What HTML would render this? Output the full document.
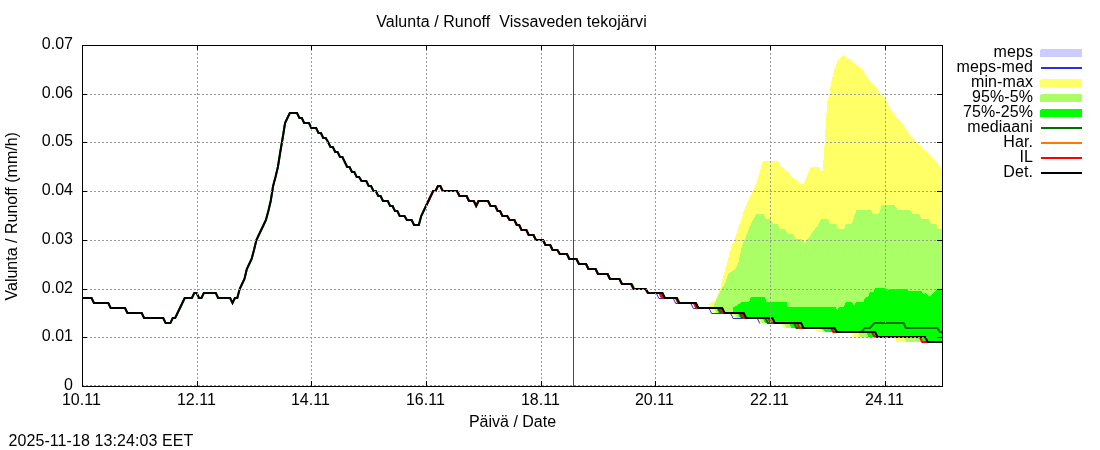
<!DOCTYPE html>
<html><head><meta charset="utf-8"><style>
html,body{margin:0;padding:0;background:#fff;width:1100px;height:450px;overflow:hidden}
svg{display:block}
.tx{will-change:transform}
text{font-family:"Liberation Sans",sans-serif;font-size:16px;fill:#000}
</style></head><body>
<svg width="1100" height="450" viewBox="0 0 1100 450">
<rect width="1100" height="450" fill="#fff"/>
<g shape-rendering="crispEdges">
<polygon points="621.89,284.0 631.44,284.0 633.83,289.0 645.78,289.0 648.17,293.0 662.50,293.0 664.89,298.0 676.83,298.0 679.22,303.0 695.94,303.0 698.33,308.0 708.50,308.0 708.50,307.0 708.90,305.3 711.10,302.0 715,301.4 717.80,294.2 720,289.2 721.70,283.7 722.80,277.6 724.40,272.6 725.60,268.1 726.70,264.8 727.50,261.0 729.70,251.7 733.70,241.0 738.30,227.7 741.70,218.3 745,207.7 746.30,205.0 753.30,190.0 757.30,180.7 759.30,173.3 762.70,161.3 778,161.3 780,166.0 783.30,167.3 784.70,170.7 788,171.3 792.20,176.7 797.80,181.1 800,184.4 803.30,184.4 806.70,176.7 811.10,166.5 818.60,166.5 820.30,170.0 822.50,171.0 823.50,160.0 824.80,142.0 826,120.0 827.40,101.0 828.90,96.0 831.10,82.8 834.40,69.4 837.80,60.6 843.30,55.0 846.70,58.3 851.10,59.4 856.70,65.0 861.10,68.3 867.80,78.3 873.30,83.9 878.90,91.7 881.60,95.0 885.60,99.4 892.20,111.9 902,122.6 910.90,136.8 921.60,146.6 930.40,156.3 936.70,162.6 943,171.4 943,342.0 942.50,342.0 896.67,342.0 894.28,337.0 853.50,337.0 851.11,332.0 816.89,332.0 814.50,328.0 783.44,328.0 781.06,323.0 759.78,323.0 757.39,318.0 734.11,318.0 731.72,313.0 713.61,313.0 711.22,308.0 694.33,308.0 691.94,303.0 681.22,303.0 678.83,298.0 660.39,298.0 658,293.0 646.67,293.0 644.28,289.0 633.83,289.0 631.44,284.0 621.89,284.0" fill="#ffff66"/>
<polygon points="621.89,284.0 631.44,284.0 633.83,289.0 645.78,289.0 648.17,293.0 662.50,293.0 664.89,298.0 676.83,298.0 679.22,303.0 695.94,303.0 698.33,308.0 713.30,308.0 713.30,307.0 715,303.1 717.20,297.6 719.40,293.1 721.70,288.7 724.40,284.2 726.70,278.7 728.30,274.2 729.40,272.6 733.90,270.3 735.60,268.7 737.20,265.3 738.50,262.0 740,255.0 742.30,245.0 746.30,235.7 751,223.7 756.30,214.0 763.30,214.0 766,218.7 770.70,218.7 772.70,223.7 777.30,223.7 780,228.7 784.70,228.7 787.30,234.0 792.70,234.0 795.30,238.7 802,238.7 804.70,243.3 808,238.7 811.30,234.0 814.70,229.3 818.70,224.0 820.70,219.3 828,219.3 830,224.0 836,224.0 838,228.7 844,228.7 846,224.0 852,224.0 854.70,214.7 856.70,210.0 870.70,210.3 873.30,213.7 878.70,213.7 882,205.0 894.70,205.0 897.30,209.9 910,209.9 912.70,214.3 919.30,214.3 921.30,219.0 928.70,219.0 930.70,223.7 936,223.7 938,229.0 943,229.0 943,342.0 942.50,342.0 906.67,342.0 904.28,337.0 860.50,337.0 858.11,332.0 822.89,332.0 820.50,328.0 786.44,328.0 784.06,323.0 761.78,323.0 759.39,318.0 737.11,318.0 734.72,313.0 716.61,313.0 714.22,308.0 694.83,308.0 692.44,303.0 677.22,303.0 674.83,298.0 660.89,298.0 658.50,293.0 648.17,293.0 645.78,289.0 635.83,289.0 633.44,284.0 621.89,284.0" fill="#aaff66"/>
<polygon points="621.89,284.0 631.44,284.0 633.83,289.0 645.78,289.0 648.17,293.0 662.50,293.0 664.89,298.0 676.83,298.0 679.22,303.0 695.94,303.0 698.33,308.0 722.22,308.0 724.61,313.0 732.70,313.0 732.70,307.7 734.20,307.0 742.20,302.0 749,302.0 751,297.0 764.40,297.0 766.70,302.0 786.70,302.0 787.80,306.8 835.70,306.8 837.40,310.7 838.80,306.8 843.70,306.8 846.30,301.8 851.70,301.8 854.30,305.8 856.10,301.8 863.70,301.8 865,297.8 868.60,296.0 869.90,292.0 873.40,292.0 875.20,288.0 884.90,288.0 887.60,291.4 890.20,288.7 906.30,288.7 908,291.0 921.40,291.0 923.20,294.0 925.80,293.1 929.40,296.7 933,293.1 938.30,288.7 943,288.7 943,342.0 942.50,342.0 923.67,342.0 921.28,337.0 868.50,337.0 866.11,332.0 824.89,332.0 822.50,328.0 791.44,328.0 789.06,323.0 764.78,323.0 762.39,318.0 740.11,318.0 737.72,313.0 718.61,313.0 716.22,308.0 699.33,308.0 696.94,303.0 679.22,303.0 676.83,298.0 665.89,298.0 663.50,293.0 648.17,293.0 645.78,289.0 633.83,289.0 631.44,284.0 621.89,284.0" fill="#00ff00"/>
</g>
<polyline points="656.50,293.5 658.89,298.5 673.33,298.5 675.72,303.5 690.94,303.5 693.33,308.5 709.22,308.5 711.61,313.5 730.72,313.5 733.11,318.5 757.39,318.5 759.78,323.5" fill="none" stroke="#2d2de1" stroke-width="1"/>
<line x1="573.5" y1="44" x2="573.5" y2="386" stroke="#ff0000" stroke-width="1"/>
<polyline points="82,298.0 91.56,298.0 93.94,303.0 108.28,303.0 110.67,308.0 125,308.0 127.39,313.0 141.72,313.0 144.11,318.0 163.22,318.0 165.61,323.0 170.39,323.0 172.78,318.0 175.17,318.0 177.56,313.0 179.94,308.0 182.33,303.0 184.72,298.0 191.89,298.0 194.28,293.0 196.67,293.0 199.06,298.0 201.44,298.0 203.83,293.0 215.78,293.0 218.17,298.0 230.11,298.0 232.50,303.0 234.89,298.0 237.28,298.0 239.67,289.0 242.06,284.0 244.44,279.0 246.83,269.0 249.22,264.0 251.61,259.0 254,250.0 256.39,240.0 258.78,235.0 261.17,230.0 263.56,225.0 265.94,220.0 268.33,211.0 270.72,201.0 273.11,186.0 275.50,177.0 277.89,167.0 280.28,152.0 282.67,138.0 285.06,123.0 287.44,118.0 289.83,113.0 297,113.0 299.39,118.0 301.78,118.0 304.17,123.0 308.94,123.0 311.33,128.0 316.11,128.0 318.50,133.0 320.89,133.0 323.28,138.0 325.67,138.0 328.06,142.0 330.44,147.0 332.83,147.0 335.22,152.0 337.61,152.0 340,157.0 342.39,157.0 344.78,162.0 347.17,167.0 349.56,167.0 351.94,172.0 354.33,172.0 356.72,177.0 359.11,177.0 361.50,181.0 366.28,181.0 368.67,186.0 371.06,186.0 373.44,191.0 375.83,191.0 378.22,196.0 380.61,196.0 383,201.0 387.78,201.0 390.17,206.0 392.56,206.0 394.94,211.0 397.33,211.0 399.72,216.0 404.50,216.0 406.89,220.0 411.67,220.0 414.06,225.0 418.83,225.0 421.22,216.0 423.61,211.0 426,206.0 428.39,201.0 430.78,196.0 433.17,191.0 435.56,191.0 437.94,186.0 440.33,186.0 442.72,191.0 457.06,191.0 459.44,196.0 466.61,196.0 469,201.0 473.78,201.0 476.17,206.0 478.56,201.0 488.11,201.0 490.50,206.0 495.28,206.0 497.67,211.0 500.06,211.0 502.44,216.0 507.22,216.0 509.61,220.0 514.39,220.0 516.78,225.0 519.17,225.0 521.56,230.0 526.33,230.0 528.72,235.0 533.50,235.0 535.89,240.0 543.06,240.0 545.44,245.0 550.22,245.0 552.61,250.0 557.39,250.0 559.78,254.0 566.94,254.0 569.33,259.0 576.50,259.0 578.89,264.0 586.06,264.0 588.44,269.0 595.61,269.0 598,274.0 607.56,274.0 609.94,279.0 619.50,279.0 621.89,284.0 631.44,284.0 633.83,289.0 645.78,289.0 648.17,293.0 661.50,293.0 663.89,298.0 676.83,298.0 679.22,303.0 694.94,303.0 697.33,308.0 718.22,308.0 720.61,313.0 739.72,313.0 742.11,318.0 765.39,318.0 767.78,323.0 794.06,323.0 796.44,328.0 831.50,328.0 833.89,332.0 861.50,332.0 864.50,328.0 869.90,328.0 874.30,323.0 903.60,323.0 905.90,328.0 937.40,328.0 940,332.0 942.50,332.0" fill="none" stroke="#007000" stroke-width="2"/>
<polyline points="426,206.0 428.39,201.0 430.78,196.0 433.17,191.0 435.56,191.0 437.94,186.0 440.33,186.0 442.72,191.0 457.06,191.0 459.44,196.0 466.61,196.0 469,201.0 473.78,201.0 476.17,206.0 478.56,201.0 488.11,201.0 490.50,206.0 495.28,206.0 497.67,211.0 500.06,211.0 502.44,216.0 507.22,216.0 509.61,220.0 514.39,220.0 516.78,225.0 519.17,225.0 521.56,230.0 526.33,230.0 528.72,235.0 533.50,235.0 535.89,240.0 543.06,240.0 545.44,245.0 550.22,245.0 552.61,250.0 557.39,250.0 559.78,254.0 566.94,254.0 569.33,259.0 576.50,259.0 578.89,264.0 586.06,264.0 588.44,269.0 595.61,269.0 598,274.0 607.56,274.0 609.94,279.0 619.50,279.0 621.89,284.0 630.94,284.0 633.33,289.0 645.28,289.0 647.67,293.0 659.50,293.0 661.89,298.0 675.83,298.0 678.22,303.0 693.94,303.0 696.33,308.0 720.22,308.0 722.61,313.0 741.72,313.0 744.11,318.0 768.39,318.0 770.78,323.0 797.06,323.0 799.44,328.0 831,328.0 833.39,332.0 872.11,332.0 874.50,337.0 919.78,337.0 922.17,342.0 942.50,342.0" fill="none" stroke="#ff0000" stroke-width="2"/>
<polyline points="82,298.0 91.56,298.0 93.94,303.0 108.28,303.0 110.67,308.0 125,308.0 127.39,313.0 141.72,313.0 144.11,318.0 163.22,318.0 165.61,323.0 170.39,323.0 172.78,318.0 175.17,318.0 177.56,313.0 179.94,308.0 182.33,303.0 184.72,298.0 191.89,298.0 194.28,293.0 196.67,293.0 199.06,298.0 201.44,298.0 203.83,293.0 215.78,293.0 218.17,298.0 230.11,298.0 232.50,303.0 234.89,298.0 237.28,298.0 239.67,289.0 242.06,284.0 244.44,279.0 246.83,269.0 249.22,264.0 251.61,259.0 254,250.0 256.39,240.0 258.78,235.0 261.17,230.0 263.56,225.0 265.94,220.0 268.33,211.0 270.72,201.0 273.11,186.0 275.50,177.0 277.89,167.0 280.28,152.0 282.67,138.0 285.06,123.0 287.44,118.0 289.83,113.0 297,113.0 299.39,118.0 301.78,118.0 304.17,123.0 308.94,123.0 311.33,128.0 316.11,128.0 318.50,133.0 320.89,133.0 323.28,138.0 325.67,138.0 328.06,142.0 330.44,147.0 332.83,147.0 335.22,152.0 337.61,152.0 340,157.0 342.39,157.0 344.78,162.0 347.17,167.0 349.56,167.0 351.94,172.0 354.33,172.0 356.72,177.0 359.11,177.0 361.50,181.0 366.28,181.0 368.67,186.0 371.06,186.0 373.44,191.0 375.83,191.0 378.22,196.0 380.61,196.0 383,201.0 387.78,201.0 390.17,206.0 392.56,206.0 394.94,211.0 397.33,211.0 399.72,216.0 404.50,216.0 406.89,220.0 411.67,220.0 414.06,225.0 418.83,225.0 421.22,216.0 423.61,211.0 426,206.0 428.39,201.0 430.78,196.0 433.17,191.0 435.56,191.0 437.94,186.0 440.33,186.0 442.72,191.0 457.06,191.0 459.44,196.0 466.61,196.0 469,201.0 473.78,201.0 476.17,206.0 478.56,201.0 488.11,201.0 490.50,206.0 495.28,206.0 497.67,211.0 500.06,211.0 502.44,216.0 507.22,216.0 509.61,220.0 514.39,220.0 516.78,225.0 519.17,225.0 521.56,230.0 526.33,230.0 528.72,235.0 533.50,235.0 535.89,240.0 543.06,240.0 545.44,245.0 550.22,245.0 552.61,250.0 557.39,250.0 559.78,254.0 566.94,254.0 569.33,259.0 576.50,259.0 578.89,264.0 586.06,264.0 588.44,269.0 595.61,269.0 598,274.0 607.56,274.0 609.94,279.0 619.50,279.0 621.89,284.0 631.44,284.0 633.83,289.0 645.78,289.0 648.17,293.0 662.50,293.0 664.89,298.0 676.83,298.0 679.22,303.0 695.94,303.0 698.33,308.0 722.22,308.0 724.61,313.0 743.72,313.0 746.11,318.0 772.39,318.0 774.78,323.0 801.06,323.0 803.44,328.0 834.50,328.0 836.89,332.0 875.11,332.0 877.50,337.0 925.28,337.0 927.67,342.0 942.50,342.0" fill="none" stroke="#000" stroke-width="2"/>
<path d="M197.5 45V386 M311.5 45V386 M426.5 45V386 M541.5 45V386 M655.5 45V386 M770.5 45V386 M885.5 45V386 M82 94.5H942 M82 142.5H942 M82 191.5H942 M82 240.5H942 M82 289.5H942 M82 337.5H942 M82 385.5H942" stroke="#9b9b9b" stroke-width="1" stroke-dasharray="2 2" fill="none" shape-rendering="crispEdges"/>
<rect x="82.5" y="45.5" width="860" height="341" fill="none" stroke="#000" stroke-width="1"/>
<line x1="573.5" y1="44" x2="573.5" y2="47" stroke="#ff0000" stroke-width="1"/>
<path d="M197.5 386V381M197.5 45V50M311.5 386V381M311.5 45V50M426.5 386V381M426.5 45V50M541.5 386V381M541.5 45V50M655.5 386V381M655.5 45V50M770.5 386V381M770.5 45V50M885.5 386V381M885.5 45V50M82 94.5H87M942 94.5H937M82 142.5H87M942 142.5H937M82 191.5H87M942 191.5H937M82 240.5H87M942 240.5H937M82 289.5H87M942 289.5H937M82 337.5H87M942 337.5H937" stroke="#000" stroke-width="1" fill="none"/>
<g shape-rendering="crispEdges">
<rect x="1041" y="49" width="41" height="8" fill="#ccccff"/><rect x="1040" y="50" width="1" height="7" fill="#ccccff"/>
<rect x="1041" y="67" width="41" height="2" fill="#2d2de1"/>
<rect x="1041" y="79" width="41" height="8" fill="#ffff66"/><rect x="1040" y="80" width="1" height="7" fill="#ffff66"/>
<rect x="1041" y="94" width="41" height="8" fill="#aaff66"/><rect x="1040" y="95" width="1" height="7" fill="#aaff66"/>
<rect x="1041" y="109" width="41" height="8" fill="#00ff00"/><rect x="1040" y="110" width="1" height="7" fill="#00ff00"/>
<rect x="1041" y="127" width="41" height="2" fill="#007000"/>
<rect x="1041" y="142" width="41" height="2" fill="#ff7800"/>
<rect x="1041" y="157" width="41" height="2" fill="#ff0000"/>
<rect x="1041" y="172" width="41" height="2" fill="#000000"/>
</g>
<g class="tx">
<text x="511.5" y="27" text-anchor="middle" letter-spacing="0.05">Valunta / Runoff&#160;&#160;Vissaveden tekojärvi</text>
<text x="73" y="49" text-anchor="end">0.07</text>
<text x="73" y="98" text-anchor="end">0.06</text>
<text x="73" y="146" text-anchor="end">0.05</text>
<text x="73" y="195" text-anchor="end">0.04</text>
<text x="73" y="244" text-anchor="end">0.03</text>
<text x="73" y="293" text-anchor="end">0.02</text>
<text x="73" y="341" text-anchor="end">0.01</text>
<text x="73" y="390" text-anchor="end">0</text>
<text x="81.4" y="405" text-anchor="middle">10.11</text>
<text x="196.4" y="405" text-anchor="middle">12.11</text>
<text x="310.4" y="405" text-anchor="middle">14.11</text>
<text x="425.4" y="405" text-anchor="middle">16.11</text>
<text x="540.4" y="405" text-anchor="middle">18.11</text>
<text x="654.4" y="405" text-anchor="middle">20.11</text>
<text x="769.4" y="405" text-anchor="middle">22.11</text>
<text x="884.4" y="405" text-anchor="middle">24.11</text>
<text x="512.5" y="427" text-anchor="middle">Päivä / Date</text>
<text x="8.5" y="446" text-anchor="start" letter-spacing="0.08">2025-11-18 13:24:03 EET</text>
<text transform="translate(17,216.3) rotate(-90)" text-anchor="middle">Valunta / Runoff (mm/h)</text>
<text x="1033.0" y="57" text-anchor="end" letter-spacing="0.1">meps</text>
<text x="1033.0" y="72" text-anchor="end" letter-spacing="0.1">meps-med</text>
<text x="1033.0" y="87" text-anchor="end" letter-spacing="0.1">min-max</text>
<text x="1033.0" y="102" text-anchor="end" letter-spacing="0.1">95%-5%</text>
<text x="1033.0" y="117" text-anchor="end" letter-spacing="0.1">75%-25%</text>
<text x="1033.0" y="132" text-anchor="end" letter-spacing="0.1">mediaani</text>
<text x="1033.0" y="147" text-anchor="end" letter-spacing="0.1">Har.</text>
<text x="1033.0" y="162" text-anchor="end" letter-spacing="0.1">IL</text>
<text x="1033.0" y="177" text-anchor="end" letter-spacing="0.1">Det.</text>
</g>
</svg>
</body></html>
